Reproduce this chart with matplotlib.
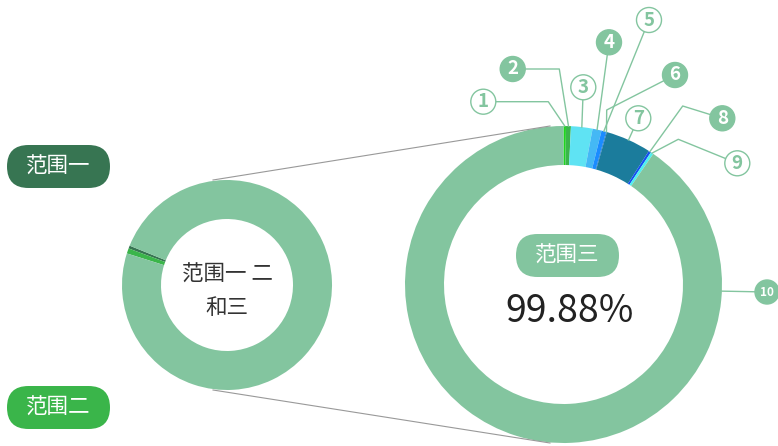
import numpy as np
import matplotlib.pyplot as plt
from matplotlib.patches import FancyBboxPatch, Circle

plt.rcParams['font.family'] = ['Noto Sans CJK SC', 'DejaVu Sans']

W, H = 778, 446

# left donut: range one / two / three
small_names = ['范围一', '范围二', '范围三']
small_values = [0.45, 0.8, 98.75]
small_colors = ['#377552', '#3ab54a', '#83c59f']
small_center_text = ['范围一 二', '和三']

# right donut: breakdown of range three
big_labels = ['1', '2', '3', '4', '5', '6', '7', '8', '9', '10']
big_values = [0.25, 0.5, 2.19, 0.92, 0.47, 0.08, 4.64, 0.25, 0.28, 90.42]
big_colors = ['#1fd51f', '#3ab54a', '#5fe3f3', '#44b8f5', '#1a8cff',
              '#0a6fd6', '#1b7c9c', '#1450f0', '#4ef0f0', '#83c59f']
center_value = '99.88%'

GREEN = '#83c59f'


def Y(y):
    # pixel row -> data y
    return H - y


fig = plt.figure(figsize=(W / 100, H / 100), dpi=100)
ax = fig.add_axes([0, 0, 1, 1])

# small donut
sc, sr = (227, Y(285)), 105
ax.pie(small_values, colors=small_colors, center=sc, radius=sr, startangle=158,
       wedgeprops=dict(width=39, linewidth=0))

# big donut
bc, br = (563.5, Y(284.5)), 158.5
wedges, _ = ax.pie(big_values, colors=big_colors, center=bc, radius=br, startangle=90,
                   counterclock=False, wedgeprops=dict(width=39, linewidth=0))

# connector lines between donuts
ax.plot([213, 550], [Y(180), Y(126)], color='#999999', lw=0.8)
ax.plot([213, 550], [Y(390), Y(443)], color='#999999', lw=0.8)

# label layout: circle centres and elbow points (pixel coords)
label_pos = [(483.3, 101.7), (512.7, 69), (583.3, 87.3), (609, 42.3), (649, 20),
             (675, 75), (638.3, 118.3), (722.3, 118.3), (737.3, 163.3), (767, 292)]
elbows = [(548.3, 101.7), (559.3, 69), None, None, None,
          (606.7, 110), None, (682.7, 106), (678.3, 139.3), None]
anchor_override = {9: -2.4}

for i, w in enumerate(wedges):
    ang = anchor_override.get(i, (w.theta1 + w.theta2) / 2)
    a = np.deg2rad(ang)
    ax0, ay0 = bc[0] + br * np.cos(a), bc[1] + br * np.sin(a)
    pts = [(ax0, ay0)]
    if elbows[i] is not None:
        pts.append((elbows[i][0], Y(elbows[i][1])))
    cx, cy = label_pos[i][0], Y(label_pos[i][1])
    rad = 12 if i == 9 else 12.5
    px, py = pts[-1]
    d = np.hypot(px - cx, py - cy)
    pts.append((cx + (px - cx) * rad / d, cy + (py - cy) * rad / d))
    xs, ys = zip(*pts)
    ax.plot(xs, ys, color=GREEN, lw=1)
    filled = (i % 2 == 1)
    ax.add_patch(Circle((cx, cy), rad, facecolor=GREEN if filled else 'white',
                        edgecolor=GREEN, lw=1, zorder=3))
    ax.text(cx, cy, big_labels[i], ha='center', va='center', zorder=4,
            fontsize=8.5 if i == 9 else 13.5, fontweight='bold',
            color='white' if filled else GREEN)


def pill(x0, y0, x1, y1, color, text):
    h = y1 - y0
    ax.add_patch(FancyBboxPatch((x0, Y(y1)), x1 - x0, h,
                                boxstyle=f'round,pad=0,rounding_size={h / 2}',
                                facecolor=color, edgecolor='none', zorder=3))
    ax.text((x0 + x1) / 2, Y((y0 + y1) / 2), text, ha='center', va='center',
            color='white', fontsize=15.5, zorder=4)


pill(7, 145, 110, 188, small_colors[0], small_names[0])
pill(7, 386, 110, 429, small_colors[1], small_names[1])
pill(516, 234, 619, 277, small_colors[2], small_names[2])

ax.text(227.5, Y(275), small_center_text[0], ha='center', va='center',
        fontsize=15.5, color='#333333')
ax.text(227, Y(308.5), small_center_text[1], ha='center', va='center',
        fontsize=15.5, color='#333333')
ax.text(570, Y(312), center_value, ha='center', va='center',
        fontsize=27, color='#222222')

ax.set_xlim(0, W)
ax.set_ylim(0, H)
ax.set_aspect('equal')
ax.axis('off')

fig.savefig('out.png', dpi=100)
